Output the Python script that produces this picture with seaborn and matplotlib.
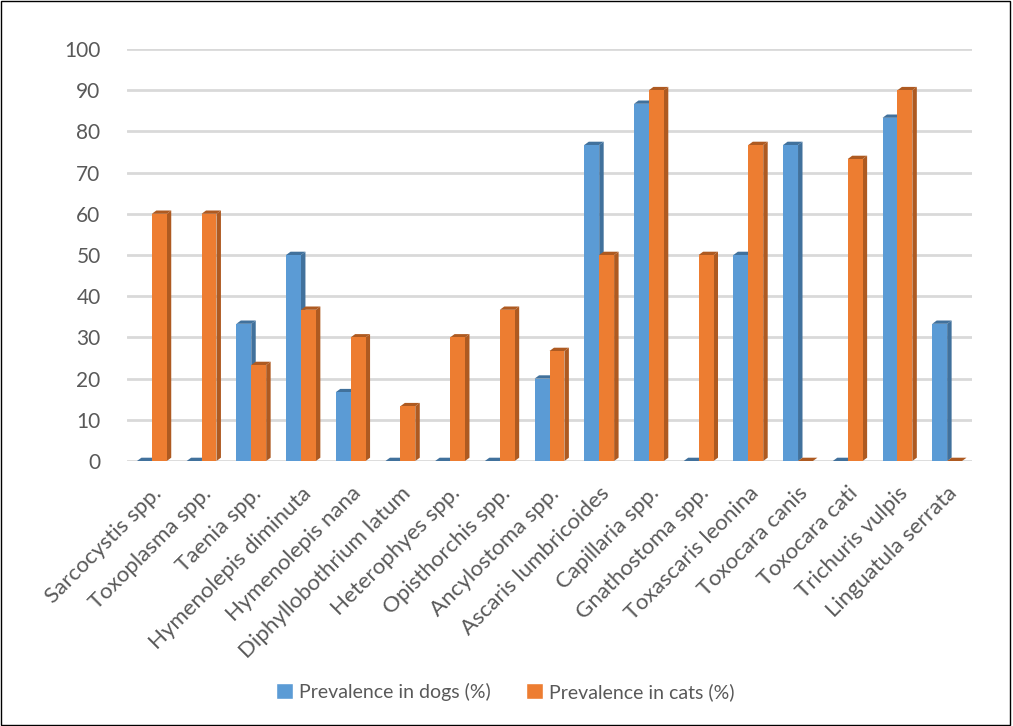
import numpy as np
import pandas as pd
import seaborn as sns
import matplotlib.pyplot as plt
from matplotlib.patches import Polygon, Rectangle, Patch

parasites = ['Sarcocystis spp.', 'Toxoplasma spp.', 'Taenia spp.', 'Hymenolepis diminuta',
             'Hymenolepis nana', 'Diphyllobothrium latum', 'Heterophyes spp.', 'Opisthorchis spp.',
             'Ancylostoma spp.', 'Ascaris lumbricoides', 'Capillaria spp.', 'Gnathostoma spp.',
             'Toxascaris leonina', 'Toxocara canis', 'Toxocara cati', 'Trichuris vulpis',
             'Linguatula serrata']
dogs = [0, 0, 33.3, 50, 16.7, 0, 0, 0, 20, 76.7, 86.7, 0, 50, 76.7, 0, 83.3, 33.3]
cats = [60, 60, 23.3, 36.7, 30, 13.3, 30, 36.7, 26.7, 50, 90, 50, 76.7, 0, 73.3, 90, 0]
series = ['Prevalence in dogs (%)', 'Prevalence in cats (%)']

# long format for seaborn
df = pd.DataFrame({'parasite': parasites * 2,
                   'value': dogs + cats,
                   'series': [series[0]] * len(dogs) + [series[1]] * len(cats)})

sns.set_style('white')
plt.rcParams['font.family'] = ['Lato', 'DejaVu Sans']

colors = ['#5B9BD5', '#ED7D31']
dark = ['#41719C', '#AE5A21']

fig = plt.figure(figsize=(10.13, 7.26), dpi=100)
ax = fig.add_axes([127 / 1013, 1 - 461 / 726, 845 / 1013, 412 / 726])

sns.barplot(data=df, x='parasite', y='value', hue='series', palette=colors,
            width=0.6, saturation=1, ax=ax, legend=False, zorder=3, linewidth=0)

# fake 3d look: side and top faces built from the bar patches
dx, dy = 0.09, 0.8
for i, p in enumerate(ax.patches):
    k = 0 if i < len(dogs) else 1
    x, w, h = p.get_x(), p.get_width(), p.get_height()
    side = Polygon([(x + w, 0), (x + w + dx, dy), (x + w + dx, h + dy), (x + w, h)],
                   closed=True, facecolor=dark[k], edgecolor='none', zorder=2)
    top = Polygon([(x, h), (x + w, h), (x + w + dx, h + dy), (x + dx, h + dy)],
                  closed=True, facecolor=dark[k], edgecolor='none', zorder=2)
    ax.add_patch(side)
    ax.add_patch(top)

ax.set_ylim(0, 100)
ax.set_xlim(-0.5, 16.5)
ax.set_yticks(range(0, 101, 10))
ax.yaxis.grid(True, color='#D9D9D9', linewidth=2)
ax.set_axisbelow(True)
for s in ax.spines.values():
    s.set_visible(False)
ax.tick_params(axis='y', length=0, pad=19, labelsize=15, labelcolor='#595959')
ax.tick_params(axis='x', length=0, pad=16, labelsize=16, labelcolor='#595959')
plt.setp(ax.get_xticklabels(), rotation=45, ha='right', rotation_mode='anchor')
ax.set_xlabel('')
ax.set_ylabel('')

handles = [Patch(facecolor=c, label=l) for c, l in zip(colors, series)]
fig.legend(handles=handles, loc='center', bbox_to_anchor=(505 / 1013, 1 - 692 / 726),
           ncol=2, frameon=False, fontsize=14, labelcolor='#595959',
           handlelength=0.9, handleheight=0.9, handletextpad=0.3, columnspacing=1.8)

fig.patches.append(Rectangle((0.001, 0.001), 0.996, 0.997, transform=fig.transFigure,
                             fill=False, edgecolor='black', linewidth=1))

fig.savefig('out.png', dpi=100)
